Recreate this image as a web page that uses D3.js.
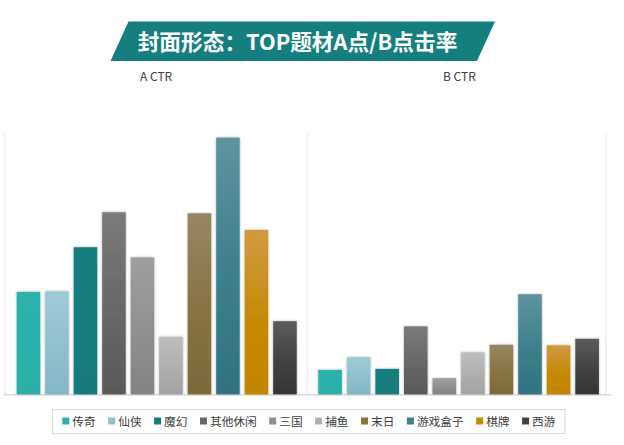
<!DOCTYPE html>
<html><head><meta charset="utf-8">
<script src="https://cdn.jsdelivr.net/npm/d3@7"></script>
<style>
html,body{margin:0;padding:0;background:#fff;}
svg{display:block;font-family:"Noto Sans CJK SC","Noto Sans",sans-serif;}
</style></head>
<body>
<svg id="chart" width="624" height="445"></svg>
<script>
const categories = ["传奇","仙侠","魔幻","其他休闲","三国","捕鱼","末日","游戏盒子","棋牌","西游"];
const aCtr = [3.95, 3.97, 5.67, 7.02, 5.28, 2.22, 6.98, 9.90, 6.34, 2.82];
const bCtr = [0.94, 1.43, 0.98, 2.62, 0.62, 1.62, 1.91, 3.86, 1.89, 2.14];
const panelLabels = ["A CTR", "B CTR"];
const title = "封面形态：TOP题材A点/B点击率";
const yMax = 10;

const baseColors = ["#2bb0aa","#8fc1cd","#137c7d","#676767","#8f8f8f","#afafaf","#877443","#3e7f8c","#c68a05","#424242"];
const topColors  = ["#2db2ac","#9ecbd6","#147e7f","#7b7b7b","#9f9f9f","#bebebe","#978661","#5e949f","#d09a42","#5b5b5b"];
const botColors  = ["#2aaea8","#83b7c4","#127a7b","#595959","#838383","#a3a3a3","#7b6a3b","#317280","#c08400","#343434"];

const svg = d3.select("#chart");
const defs = svg.append("defs");
categories.forEach((c,i)=>{
  const g = defs.append("linearGradient").attr("id","g"+i).attr("x1",0).attr("y1",0).attr("x2",0).attr("y2",1);
  g.append("stop").attr("offset","0%").attr("stop-color",topColors[i]);
  g.append("stop").attr("offset","55%").attr("stop-color",baseColors[i]);
  g.append("stop").attr("offset","100%").attr("stop-color",botColors[i]);
});
const f = defs.append("filter").attr("id","sh").attr("x","-20%").attr("y","-5%").attr("width","140%").attr("height","110%");
f.append("feDropShadow").attr("dx",0).attr("dy",0).attr("stdDeviation",0.8).attr("flood-color","#000").attr("flood-opacity",0.35);

// Title banner
svg.append("polygon")
  .attr("points",[[128.5,21.5],[495,21.5],[477,61],[110.5,61]].map(p=>p.join(",")).join(" "))
  .attr("fill","#157f80");
svg.append("text").attr("x",297.5).attr("y",50).attr("text-anchor","middle")
  .attr("fill","#fff").attr("font-weight","bold").attr("font-size",21.7)
  .text(title);

// Panel labels
svg.append("text").attr("x",140).attr("y",81).attr("font-size",12).attr("fill","#404040").text(panelLabels[0]);
svg.append("text").attr("x",443).attr("y",81).attr("font-size",12).attr("fill","#404040").text(panelLabels[1]);

const y = d3.scaleLinear().domain([0,yMax]).range([394.3,135]);

// grid/frame lines
[5,307,606].forEach(x=>{
  svg.append("line").attr("x1",x).attr("x2",x).attr("y1",134).attr("y2",394)
    .attr("stroke","#e9e9e9").attr("stroke-width",1.2);
});
svg.append("line").attr("x1",4).attr("x2",611).attr("y1",394.8).attr("y2",394.8)
  .attr("stroke","#d9d9d9").attr("stroke-width",1.5);

const panels = [
  {vals:aCtr, range:[14.2,299.2]},
  {vals:bCtr, range:[315.8,601.4]}
];
panels.forEach(p=>{
  const x = d3.scaleBand().domain(categories).range(p.range).paddingInner(0.175).paddingOuter(0.0875);
  svg.append("g").selectAll("rect").data(categories).join("rect")
    .attr("x",d=>x(d)).attr("width",x.bandwidth())
    .attr("y",(d,i)=>y(p.vals[i])).attr("height",(d,i)=>y(0)-y(p.vals[i]))
    .attr("fill",(d,i)=>"url(#g"+i+")")
    .attr("filter","url(#sh)");
});

// Legend
svg.append("rect").attr("x",52.5).attr("y",409.5).attr("width",512.5).attr("height",24)
  .attr("fill","#fff").attr("stroke","#d9d9d9").attr("stroke-width",1);
const lg = svg.append("g");
let lx = 62.3;
categories.forEach((c,i)=>{
  lg.append("rect").attr("x",lx).attr("y",417.5).attr("width",7).attr("height",7).attr("fill",baseColors[i]);
  const t = lg.append("text").attr("x",lx+10).attr("y",425.5).attr("font-size",11.7).attr("fill","#404040").text(c);
  const w = t.node().getComputedTextLength();
  lx += 10 + w + 12.5;
});
</script>
</body></html>
